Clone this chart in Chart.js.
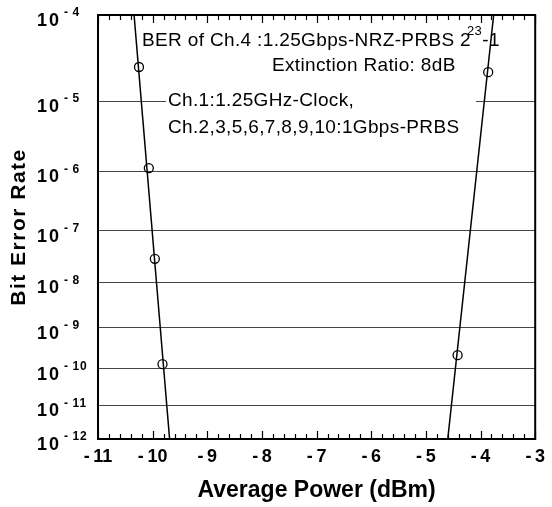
<!DOCTYPE html>
<html>
<head>
<meta charset="utf-8">
<script src="https://cdn.jsdelivr.net/npm/chart.js@4.4.1/dist/chart.umd.min.js"></script>
<style>body{margin:0;background:#fff}canvas{display:block}</style>
</head>
<body>
<canvas id="myChart" width="552" height="507"></canvas>
<script>
// y axis decades, BER = 10^-n
const berDecades = [4, 5, 6, 7, 8, 9, 10, 11, 12];
const powerTicks = [-11, -10, -9, -8, -7, -6, -5, -4, -3];

// measured points (left group)
const leftPower = [-10.25, -10.07, -9.96, -9.82];
const leftBer = [2.65e-5, 1.13e-6, 3.0e-8, 1.3e-10];
// measured points (right group)
const rightPower = [-4.42, -3.86];
const rightBer = [2.2e-10, 2.3e-5];
// fitted lines
const fitLeftPower = [-10.34, -9.69];
const fitLeftBer = [1e-4, 1e-12];
const fitRightPower = [-4.60, -3.76];
const fitRightBer = [1e-12, 1e-4];

// BER paper scale: log(-log(BER))
function q(ber){ return Math.log10(-Math.log10(ber)); }
function pts(px, bers){ return px.map((p, i) => ({x: p, y: q(bers[i])})); }

const FONT = '"Liberation Sans", Arial, Helvetica, sans-serif';

const decor = {
  id: 'decor',
  beforeDatasetsDraw(chart){
    const c = chart.ctx;
    c.save();
    c.fillStyle = '#fff';
    c.fillRect(166, 24, 310, 116);
    c.restore();
  },
  afterDatasetsDraw(chart){
    const c = chart.ctx, a = chart.chartArea, xs = chart.scales.x, ys = chart.scales.y;
    c.save();
    c.strokeStyle = '#000';
    c.lineWidth = 2;
    c.strokeRect(a.left, a.top, a.right - a.left, a.bottom - a.top);

    // inward ticks top and bottom
    c.lineWidth = 1.2;
    c.beginPath();
    for (let i = 0; i <= 40; i++) {
      const px = Math.round(xs.getPixelForValue(powerTicks[0] + i * 0.2)) + 0.5;
      const len = i % 5 === 0 ? 8 : 5;
      c.moveTo(px, a.bottom); c.lineTo(px, a.bottom - len);
      c.moveTo(px, a.top); c.lineTo(px, a.top + len);
    }
    c.stroke();

    // y tick labels 10^-n
    c.fillStyle = '#000';
    c.textAlign = 'left';
    c.textBaseline = 'middle';
    berDecades.forEach(n => {
      const py = ys.getPixelForValue(Math.log10(n));
      c.font = 'bold 18px ' + FONT;
      c.letterSpacing = '2px';
      c.fillText('10', 37, py + 6);
      const w = c.measureText('10').width;
      c.font = 'bold 12px ' + FONT;
      c.letterSpacing = '1px';
      c.fillText('-\u2009' + n, 37 + w + 3, py - 2);
    });

    // y title
    c.save();
    c.translate(19, (a.top + a.bottom) / 2);
    c.rotate(-Math.PI / 2);
    c.textAlign = 'center';
    c.font = 'bold 21px ' + FONT;
    c.letterSpacing = '1.5px';
    c.fillText('Bit Error Rate', 0, 0);
    c.restore();

    // annotation
    c.letterSpacing = '0.35px';
    c.textBaseline = 'alphabetic';
    c.font = '19px ' + FONT;
    let t = 'BER of Ch.4 :1.25Gbps-NRZ-PRBS 2';
    c.fillText(t, 142, 46);
    let x = 142 + c.measureText(t).width;
    c.font = '13px ' + FONT;
    c.fillText('23', x - 4, 35);
    x += c.measureText('23').width - 4;
    c.font = '19px ' + FONT;
    c.fillText('-1', x, 46);
    c.fillText('Extinction Ratio: 8dB', 272, 71);
    c.fillText('Ch.1:1.25GHz-Clock,', 168, 106);
    c.fillText('Ch.2,3,5,6,7,8,9,10:1Gbps-PRBS', 168, 133);
    c.restore();
  }
};

window.addEventListener('load', function(){
  const ctx = document.getElementById('myChart');
  new Chart(ctx, {
    type: 'scatter',
    data: {
      datasets: [
        {data: pts(leftPower, leftBer), pointStyle: 'circle', pointRadius: 4.5,
         borderColor: '#000', backgroundColor: 'rgba(0,0,0,0)', borderWidth: 1.3},
        {data: pts(rightPower, rightBer), pointStyle: 'circle', pointRadius: 4.5,
         borderColor: '#000', backgroundColor: 'rgba(0,0,0,0)', borderWidth: 1.3},
        {data: pts(fitLeftPower, fitLeftBer), showLine: true, pointRadius: 0,
         borderColor: '#000', borderWidth: 1.5},
        {data: pts(fitRightPower, fitRightBer), showLine: true, pointRadius: 0,
         borderColor: '#000', borderWidth: 1.5}
      ]
    },
    options: {
      responsive: false,
      animation: false,
      devicePixelRatio: 1,
      layout: {padding: {top: 15, right: 7, bottom: 0, left: 0}},
      plugins: {legend: {display: false}, tooltip: {enabled: false}},
      scales: {
        x: {
          type: 'linear', min: -11, max: -3,
          afterBuildTicks: s => { s.ticks = powerTicks.map(v => ({value: v})); },
          afterFit: s => { s.height = 68; },
          grid: {display: false, drawTicks: false},
          border: {display: false},
          ticks: {
            padding: 7, color: '#000',
            font: {family: FONT, size: 18, weight: 'bold'},
            callback: v => v < 0 ? '-\u2009' + Math.abs(v) : String(v)
          },
          title: {display: true, text: 'Average Power (dBm)', color: '#000',
                  font: {family: FONT, size: 23, weight: 'bold'}, padding: {top: 2, bottom: 3}}
        },
        y: {
          type: 'linear', reverse: true,
          min: q(1e-4), max: q(1e-12),
          afterBuildTicks: s => { s.ticks = berDecades.map(n => ({value: Math.log10(n)})); },
          afterFit: s => { s.width = 98; },
          grid: {color: '#444', lineWidth: 1, drawTicks: false},
          border: {display: false},
          ticks: {display: false}
        }
      }
    },
    plugins: [decor]
  });
});
</script>
</body>
</html>
